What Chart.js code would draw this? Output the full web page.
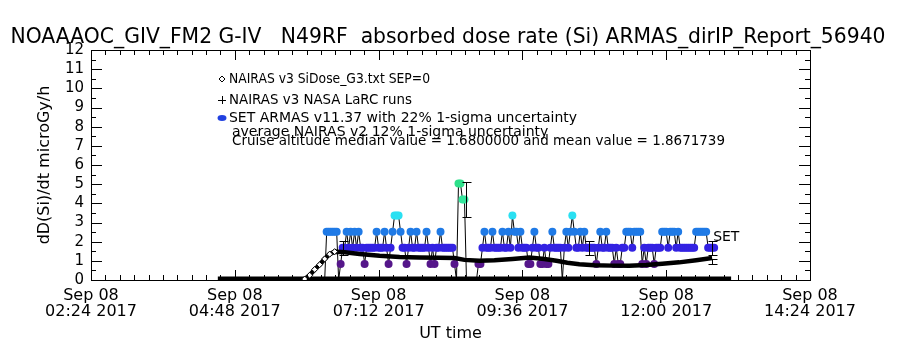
<!DOCTYPE html>
<html>
<head>
<meta charset="utf-8">
<title>ARMAS absorbed dose rate</title>
<script src="https://cdn.jsdelivr.net/npm/chart.js@4.4.1/dist/chart.umd.min.js"></script>
<style>
  html, body { margin: 0; padding: 0; background: #ffffff; }
  #wrap { width: 900px; height: 350px; }
</style>
</head>
<body>
<div id="wrap"><canvas id="doseChart"></canvas></div>
<script>
// ===========================
// DATA
// ===========================

const titleText =
  "NOAAAOC_GIV_FM2 G-IV   N49RF  absorbed dose rate (Si) ARMAS_dirIP_Report_56940";
const yTitle = "dD(Si)/dt microGy/h";
const xTitle = "UT time";

// x axis, Sep 08 2017 UT
const axisStart = "02:24";
const axisEnd = "14:24";
const tickTimes = ["02:24", "04:48", "07:12", "09:36", "12:00", "14:24"];
const tickDate = "Sep 08";
const tickYear = "2017";
const yTicks = [0, 1, 2, 3, 4, 5, 6, 7, 8, 9, 10, 11, 12];

const legendLines = [
  "NAIRAS v3 SiDose_G3.txt SEP=0",
  "NAIRAS v3 NASA LaRC runs",
  "SET ARMAS v11.37 with 22% 1-sigma uncertainty",
];
const statsLines = [
  "average NAIRAS v2 12% 1-sigma uncertainty",
  "Cruise altitude median value = 1.6800000 and mean value = 1.8671739",
];

// NAIRAS v3 SiDose_G3 (diamonds)
const nairasTime = [
  "05:58", "06:03", "06:08", "06:13", "06:18", "06:23", "06:28", "06:38",
  "06:53", "07:13", "07:33", "07:53", "08:13", "08:28", "08:38", "08:53",
  "09:08", "09:26", "09:43", "09:58", "10:10", "10:21", "10:33", "10:48",
  "11:06", "11:23", "11:40", "11:56", "12:13", "12:30", "12:46",
];
const nairasDose = [
  0.05, 0.25, 0.55, 0.8, 1.1, 1.35, 1.48, 1.45,
  1.36, 1.26, 1.2, 1.17, 1.16, 1.15, 1.05, 1.0,
  1.03, 1.1, 1.17, 1.1, 1.0, 0.9, 0.82, 0.77,
  0.75, 0.75, 0.78, 0.85, 0.92, 1.03, 1.15,
];

// NAIRAS file values before / after cruise
const baseTime = ["04:31", "13:05"];
const baseDose = [0.08, 0.08];

// SET ARMAS v11.37, 2 minute records
const armasTime = [
  "06:18", "06:20", "06:22", "06:24", "06:26", "06:28", "06:30", "06:32", "06:34", "06:36", "06:38", "06:40", "06:42", "06:44", "06:46",
  "06:48", "06:50", "06:52", "06:54", "06:56", "06:58", "07:00", "07:02", "07:04", "07:06", "07:08", "07:10", "07:12", "07:14", "07:16",
  "07:18", "07:20", "07:22", "07:24", "07:26", "07:28", "07:30", "07:32", "07:34", "07:36", "07:38", "07:40", "07:42", "07:44", "07:46",
  "07:48", "07:50", "07:52", "07:54", "07:56", "07:58", "08:00", "08:02", "08:04", "08:06", "08:08", "08:10", "08:12", "08:14", "08:16",
  "08:18", "08:20", "08:22", "08:24", "08:26", "08:28", "08:30", "08:32", "08:34", "08:36", "08:38", "08:40", "08:42", "08:44", "08:46",
  "08:48", "08:50", "08:52", "08:54", "08:56", "08:58", "09:00", "09:02", "09:04", "09:06", "09:08", "09:10", "09:12", "09:14", "09:16",
  "09:18", "09:20", "09:22", "09:24", "09:26", "09:28", "09:30", "09:32", "09:34", "09:36", "09:38", "09:40", "09:42", "09:44", "09:46",
  "09:48", "09:50", "09:52", "09:54", "09:56", "09:58", "10:00", "10:02", "10:04", "10:06", "10:08", "10:10", "10:12", "10:14", "10:16",
  "10:18", "10:20", "10:22", "10:24", "10:26", "10:28", "10:30", "10:32", "10:34", "10:36", "10:38", "10:40", "10:42", "10:44", "10:46",
  "10:48", "10:50", "10:52", "10:54", "10:56", "10:58", "11:00", "11:02", "11:04", "11:06", "11:08", "11:10", "11:12", "11:14", "11:16",
  "11:18", "11:20", "11:22", "11:24", "11:26", "11:28", "11:30", "11:32", "11:34", "11:36", "11:38", "11:40", "11:42", "11:44", "11:46",
  "11:48", "11:50", "11:52", "11:54", "11:56", "11:58", "12:00", "12:02", "12:04", "12:06", "12:08", "12:10", "12:12", "12:14", "12:16",
  "12:18", "12:20", "12:22", "12:24", "12:26", "12:28", "12:30", "12:32", "12:34", "12:36", "12:38", "12:40", "12:42", "12:44", "12:46",
  "12:48",
];
const armasDose = [
  0, 2.52, 2.52, 2.52, 2.52, 2.52, 2.52, 0, 0.84, 1.68, 1.68, 2.52, 1.68, 2.52, 1.68,
  2.52, 1.68, 2.52, 1.68, 1.68, 0.84, 1.68, 1.68, 1.68, 1.68, 1.68, 2.52, 1.68, 1.68, 1.68,
  2.52, 1.68, 0.84, 1.68, 2.52, 3.36, 3.36, 3.36, 2.52, 1.68, 1.68, 0.84, 1.68, 2.52, 1.68,
  1.68, 2.52, 1.68, 1.68, 1.68, 1.68, 2.52, 1.68, 0.84, 1.68, 0.84, 1.68, 1.68, 2.52, 1.68,
  1.68, 1.68, 1.68, 1.68, 1.68, 0.84, 0, 5.04, 5.04, 4.2, 4.2, 0, 0, 0, 0,
  0, 0, 0.84, 0.84, 1.68, 2.52, 1.68, 1.68, 1.68, 2.52, 1.68, 1.68, 1.68, 1.68, 2.52,
  1.68, 1.68, 2.52, 1.68, 3.36, 2.52, 2.52, 1.68, 2.52, 1.68, 1.68, 1.68, 0.84, 0.84, 1.68,
  2.52, 1.68, 1.68, 0.84, 0.84, 1.68, 0.84, 0.84, 1.68, 2.52, 1.68, 1.68, 1.68, 1.68, 0,
  1.68, 2.52, 1.68, 2.52, 3.36, 2.52, 1.68, 1.68, 2.52, 1.68, 2.52, 1.68, 1.68, 1.68, 1.68,
  1.68, 0.84, 1.68, 2.52, 1.68, 1.68, 2.52, 1.68, 1.68, 1.68, 0.84, 1.68, 0.84, 0.84, 1.68,
  1.68, 2.52, 2.52, 2.52, 1.68, 2.52, 2.52, 2.52, 2.52, 0.84, 1.68, 0.84, 1.68, 1.68, 1.68,
  0.84, 1.68, 1.68, 1.68, 2.52, 2.52, 2.52, 1.68, 2.52, 2.52, 2.52, 1.68, 2.52, 1.68, 1.68,
  1.68, 1.68, 1.68, 1.68, 1.68, 1.68, 2.52, 2.52, 2.52, 2.52, 2.52, 2.52, 1.68, 1.68, 1.68,
  1.68,
];

// 1-sigma bars (ARMAS 22%, last one NAIRAS v2 12%)
const barTime = ["06:36", "08:40", "10:43", "12:46", "12:46"];
const barDose = [1.68, 4.2, 1.68, 1.68, 0.97];
const barSigma = [0.37, 0.92, 0.37, 0.37, 0.12];

const setLabelText = "SET";
const setLabelTime = "12:46";
const setLabelDose = 2.25;

// ===========================
// HELPERS
// ===========================

const FONT = "DejaVu Sans";

function toMin(hhmm) {
  const p = hhmm.split(":");
  return Number(p[0]) * 60 + Number(p[1]);
}

function fmtMin(v) {
  const h = Math.floor(v / 60);
  const m = Math.round(v - h * 60);
  return String(h).padStart(2, "0") + ":" + String(m).padStart(2, "0");
}

// ARMAS marker colour depends on the dose level
const levelColors = [
  [0.84, "#55168a"],
  [1.68, "#3322e2"],
  [2.52, "#1f7ae6"],
  [3.36, "#2ae0f2"],
  [4.2, "#34e69c"],
  [5.04, "#2ee08a"],
];

function colorFor(v) {
  if (!(v > 0)) return "rgba(0,0,0,0)";
  let best = levelColors[0];
  levelColors.forEach((c) => {
    if (Math.abs(c[0] - v) < Math.abs(best[0] - v)) best = c;
  });
  return best[1];
}

function pairs(times, values) {
  return times.map((t, i) => ({ x: toMin(t), y: values[i] }));
}

// ===========================
// PLUGINS
// ===========================

// IDL style frame with inward ticks
const frameAxes = {
  id: "frameAxes",
  afterDraw(chart) {
    const { ctx, chartArea: a, scales } = chart;
    const xs = scales.x;
    const ys = scales.y;
    ctx.save();
    ctx.strokeStyle = "#000";
    ctx.lineWidth = 1;
    ctx.strokeRect(a.left + 0.5, a.top + 0.5, a.right - a.left, a.bottom - a.top);

    ctx.beginPath();
    const x0 = toMin(axisStart);
    const x1 = toMin(axisEnd);
    const xStep = (toMin(tickTimes[1]) - x0) / 10;
    for (let i = 0; x0 + i * xStep <= x1 + 0.01; i++) {
      const px = Math.round(xs.getPixelForValue(x0 + i * xStep)) + 0.5;
      const len = i % 10 === 0 ? 10 : 5;
      ctx.moveTo(px, a.bottom);
      ctx.lineTo(px, a.bottom - len);
      ctx.moveTo(px, a.top);
      ctx.lineTo(px, a.top + len);
    }
    for (let i = 0; i <= 24; i++) {
      const py = Math.round(ys.getPixelForValue(i * 0.5)) + 0.5;
      const len = i % 2 === 0 ? 11 : 5;
      ctx.moveTo(a.left, py);
      ctx.lineTo(a.left + len, py);
      ctx.moveTo(a.right, py);
      ctx.lineTo(a.right - len, py);
    }
    ctx.stroke();
    ctx.restore();
  },
};

// uncertainty bars, SET label, title and legend text
const annotations = {
  id: "annotations",
  afterDraw(chart) {
    const { ctx, scales } = chart;
    const xs = scales.x;
    const ys = scales.y;
    ctx.save();
    ctx.strokeStyle = "#000";
    ctx.lineWidth = 1;
    ctx.beginPath();
    barTime.forEach((t, i) => {
      const px = Math.round(xs.getPixelForValue(toMin(t))) + 0.5;
      const top = Math.round(ys.getPixelForValue(barDose[i] + barSigma[i])) + 0.5;
      const bot = Math.round(ys.getPixelForValue(barDose[i] - barSigma[i])) + 0.5;
      ctx.moveTo(px, top);
      ctx.lineTo(px, bot);
      ctx.moveTo(px - 4, top);
      ctx.lineTo(px + 5, top);
      ctx.moveTo(px - 4, bot);
      ctx.lineTo(px + 5, bot);
    });
    ctx.stroke();

    ctx.fillStyle = "#000";
    ctx.textBaseline = "middle";
    ctx.textAlign = "left";
    ctx.font = "14px " + FONT;
    ctx.fillText(
      setLabelText,
      xs.getPixelForValue(toMin(setLabelTime)) + 1,
      ys.getPixelForValue(setLabelDose)
    );

    // title
    ctx.textAlign = "center";
    ctx.font = "21px " + FONT;
    ctx.fillText(titleText, 448, 38, 875);

    // legend
    ctx.textAlign = "left";
    ctx.font = "14px " + FONT;
    const rowY = [79, 100, 118];
    const rowW = [201, 183, 348];
    legendLines.forEach((txt, i) => ctx.fillText(txt, 229, rowY[i], rowW[i]));
    const statW = [326, 493];
    statsLines.forEach((txt, i) => ctx.fillText(txt, 232, 132 + i * 9, statW[i]));

    // legend symbols
    ctx.beginPath();
    ctx.moveTo(222, rowY[0] - 3);
    ctx.lineTo(225, rowY[0]);
    ctx.lineTo(222, rowY[0] + 3);
    ctx.lineTo(219, rowY[0]);
    ctx.closePath();
    ctx.moveTo(218, rowY[1] + 0.5);
    ctx.lineTo(226, rowY[1] + 0.5);
    ctx.moveTo(222.5, rowY[1] - 4);
    ctx.lineTo(222.5, rowY[1] + 4);
    ctx.stroke();
    ctx.fillStyle = "#2040e0";
    ctx.beginPath();
    ctx.ellipse(222, rowY[2], 4.5, 3, 0, 0, Math.PI * 2);
    ctx.fill();
    ctx.restore();
  },
};

// ===========================
// CHART
// ===========================

const ctx = document.getElementById("doseChart").getContext("2d");

new Chart(ctx, {
  type: "line",
  data: {
    datasets: [
      {
        label: "NAIRAS v3 SiDose_G3.txt SEP=0",
        data: pairs(nairasTime, nairasDose),
        borderColor: "#000",
        borderWidth: 4.5,
        pointStyle: "rectRot",
        pointRadius: (c) => (c.dataIndex < 7 ? 3 : 0),
        pointBackgroundColor: "#fff",
        pointBorderColor: "#000",
        pointBorderWidth: 1,
        order: 1,
      },
      {
        label: "SET ARMAS v11.37",
        data: pairs(armasTime, armasDose),
        borderColor: "#000",
        borderWidth: 1,
        pointRadius: (c) => (c.raw && c.raw.y > 0 ? 4 : 0),
        pointBackgroundColor: (c) => colorFor(c.raw ? c.raw.y : 0),
        pointBorderWidth: 0,
        order: 2,
      },
      {
        label: "NAIRAS file base",
        data: pairs(baseTime, baseDose),
        borderColor: "#000",
        borderWidth: 4,
        pointRadius: 0,
        order: 3,
      },
    ],
  },
  options: {
    responsive: true,
    maintainAspectRatio: false,
    animation: false,
    devicePixelRatio: 1,
    layout: { padding: { top: 50, right: 90, bottom: 0, left: 0 } },
    plugins: {
      legend: { display: false },
      title: { display: false },
      tooltip: { enabled: false },
    },
    scales: {
      x: {
        type: "linear",
        min: toMin(axisStart),
        max: toMin(axisEnd),
        afterBuildTicks: (s) => {
          s.ticks = tickTimes.map((t) => ({ value: toMin(t) }));
        },
        afterFit: (s) => {
          s.height = 70;
        },
        grid: { display: false, drawTicks: false },
        border: { display: false },
        ticks: {
          callback: (v) => [tickDate, fmtMin(v) + " " + tickYear],
          color: "#000",
          font: { family: FONT, size: 16, lineHeight: 1.0 },
          padding: 8,
          maxRotation: 0,
          autoSkip: false,
        },
        title: {
          display: true,
          text: xTitle,
          color: "#000",
          font: { family: FONT, size: 16 },
          padding: { top: 0, bottom: 7 },
        },
      },
      y: {
        min: 0,
        max: 12,
        afterBuildTicks: (s) => {
          s.ticks = yTicks.map((v) => ({ value: v }));
        },
        afterFit: (s) => {
          s.width = 91;
        },
        grid: { display: false, drawTicks: false },
        border: { display: false },
        ticks: {
          color: "#000",
          font: { family: FONT, size: 15 },
          padding: 7,
          autoSkip: false,
        },
        title: {
          display: true,
          text: yTitle,
          color: "#000",
          font: { family: FONT, size: 16 },
          padding: { top: 35, bottom: 0 },
        },
      },
    },
  },
  plugins: [frameAxes, annotations],
});
</script>
</body>
</html>
